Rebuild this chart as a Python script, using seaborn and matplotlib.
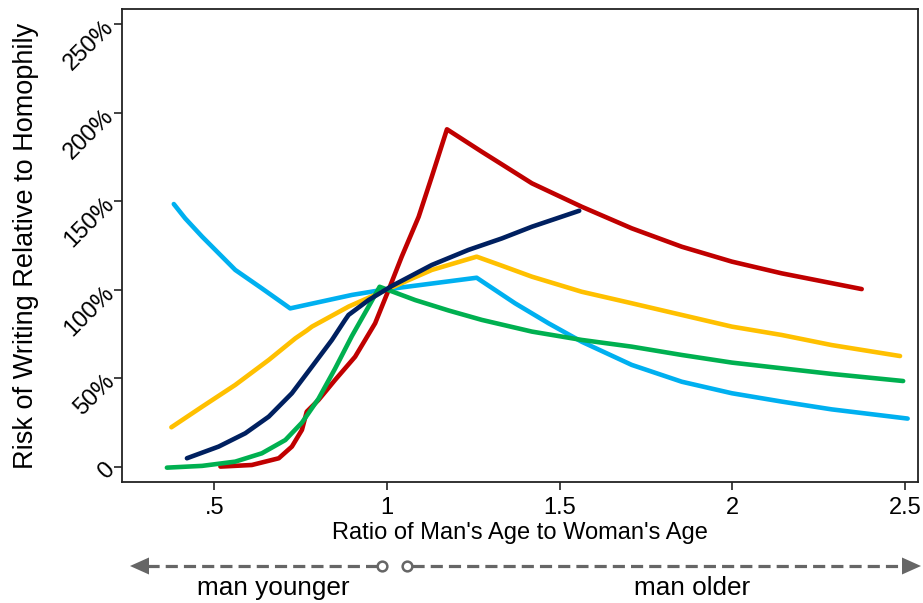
import matplotlib
matplotlib.use("Agg")
import matplotlib.pyplot as plt
from matplotlib.lines import Line2D
from matplotlib.patches import Polygon
import seaborn as sns
import pandas as pd

# ---- data ----
lightblue_x = [0.383, 0.416, 0.465, 0.513, 0.561, 0.638, 0.720, 0.899, 0.986, 1.26, 1.371, 1.468, 1.564, 1.709, 1.854, 1.999, 2.143, 2.288, 2.508]
lightblue_y = [148.4, 140.3, 130.0, 120.6, 111.2, 100.8, 89.5, 97.1, 99.9, 106.8, 92.4, 81.1, 70.7, 57.6, 48.1, 41.6, 36.9, 32.5, 27.3]

yellow_x = [0.376, 0.465, 0.561, 0.658, 0.735, 0.768, 0.783, 0.889, 0.986, 1.13, 1.26, 1.333, 1.42, 1.564, 1.709, 1.854, 1.999, 2.143, 2.288, 2.486]
yellow_y = [22.4, 34.0, 46.3, 60.4, 72.6, 77.0, 79.2, 90.5, 98.9, 111.2, 118.7, 113.6, 107.4, 98.9, 92.4, 85.8, 79.2, 74.5, 68.8, 62.6]

green_x = [0.363, 0.465, 0.561, 0.638, 0.706, 0.754, 0.802, 0.85, 0.899, 0.947, 0.979, 1.082, 1.179, 1.275, 1.42, 1.564, 1.709, 1.854, 1.999, 2.143, 2.288, 2.495]
green_y = [-0.4, 0.6, 3.0, 7.7, 15.2, 25.0, 38.5, 55.5, 74.0, 90.5, 101.7, 94.2, 88.3, 83.0, 76.4, 71.7, 67.9, 63.2, 58.9, 55.7, 52.5, 48.5]

navy_x = [0.421, 0.513, 0.59, 0.658, 0.725, 0.783, 0.841, 0.879, 0.889, 0.947, 1.014, 1.13, 1.236, 1.333, 1.42, 1.557]
navy_y = [4.9, 11.5, 19.0, 28.4, 41.6, 56.6, 71.7, 83.0, 85.8, 94.2, 102.1, 114.0, 122.5, 129.0, 135.6, 144.6]

red_x = [0.518, 0.609, 0.687, 0.725, 0.754, 0.768, 0.802, 0.85, 0.908, 0.966, 1.005, 1.043, 1.092, 1.13, 1.174, 1.275, 1.333, 1.42, 1.564, 1.709, 1.854, 1.999, 2.143, 2.375]
red_y = [0.2, 1.1, 4.9, 11.5, 20.9, 31.2, 37.8, 49.1, 62.2, 81.1, 99.9, 118.7, 141.2, 163.8, 190.6, 177.9, 170.8, 160.1, 146.9, 134.7, 124.3, 115.9, 109.3, 100.4]

series_names = ["lightblue", "yellow", "red", "green", "navy"]
series_colors = ["#00B0F0", "#FFC000", "#C00000", "#00B050", "#002060"]

x_ticks = [0.5, 1.0, 1.5, 2.0, 2.5]
x_tick_labels = [".5", "1", "1.5", "2", "2.5"]
y_ticks = [0, 50, 100, 150, 200, 250]
y_tick_labels = ["0", "50%", "100%", "150%", "200%", "250%"]

series_x = {"lightblue": lightblue_x, "yellow": yellow_x, "red": red_x, "green": green_x, "navy": navy_x}
series_y = {"lightblue": lightblue_y, "yellow": yellow_y, "red": red_y, "green": green_y, "navy": navy_y}
df = pd.concat([pd.DataFrame({"ratio": series_x[n], "risk": series_y[n], "series": n}) for n in series_names],
               ignore_index=True)

sns.set_style("white")
plt.rcParams["font.family"] = ["Liberation Sans", "DejaVu Sans"]
plt.rcParams["text.color"] = "black"
plt.rcParams["axes.labelcolor"] = "black"
plt.rcParams["xtick.color"] = "black"
plt.rcParams["ytick.color"] = "black"

W, H = 923.0, 603.0
fig = plt.figure(figsize=(9.23, 6.03), dpi=100)
ax = fig.add_axes([122 / W, 1 - 482 / H, (918 - 122) / W, (482 - 9) / H])

sns.lineplot(data=df, x="ratio", y="risk", hue="series", hue_order=series_names,
             palette=dict(zip(series_names, series_colors)), linewidth=3.3,
             sort=False, legend=False, ax=ax, solid_capstyle="round", solid_joinstyle="round")

ax.set_xlim(0.233, 2.538)
ax.set_ylim(-8.5, 258.5)
ax.set_xticks(x_ticks)
ax.set_xticklabels(x_tick_labels, fontsize=17)
ax.set_yticks(y_ticks)
ax.set_yticklabels(y_tick_labels, fontsize=17, rotation=45, va="center", ha="right",
                   rotation_mode="anchor")
ax.tick_params(axis="both", direction="out", length=6, width=1.2, color="#222222", left=True, bottom=True)
ax.tick_params(axis="x", pad=5)
ax.tick_params(axis="y", pad=2)
for s in ax.spines.values():
    s.set_color("#222222")
    s.set_linewidth(1.3)

ax.set_xlabel("Ratio of Man's Age to Woman's Age", fontsize=17, va="center")
ax.xaxis.set_label_coords(0.5, (482 - 533) / 473)
ax.set_ylabel("Risk of Writing Relative to Homophily", fontsize=19.5, va="center")
ax.yaxis.set_label_coords((26 - 122) / 796, 0.5)

# ---- direction arrow below the axes ----
gray = "#666666"
ya = 566
def fx(px):
    return px / W
def fy(py):
    return 1 - py / H

fig.add_artist(Line2D([fx(147), fx(377)], [fy(ya), fy(ya)], transform=fig.transFigure, color=gray,
                      lw=2.3, dashes=(3.8, 1.9)))
fig.add_artist(Line2D([fx(412), fx(904)], [fy(ya), fy(ya)], transform=fig.transFigure, color=gray,
                      lw=2.3, dashes=(3.8, 1.9)))
fig.add_artist(Polygon([[fx(130), fy(ya)], [fx(149), fy(ya - 8.5)], [fx(149), fy(ya + 8.5)]],
                       closed=True, transform=fig.transFigure, color=gray, lw=0))
fig.add_artist(Polygon([[fx(921), fy(ya)], [fx(902), fy(ya - 8.5)], [fx(902), fy(ya + 8.5)]],
                       closed=True, transform=fig.transFigure, color=gray, lw=0))
fig.add_artist(Line2D([fx(382), fx(407)], [fy(ya), fy(ya)], transform=fig.transFigure, marker="o",
                      mfc="white", mec=gray, mew=1.8, markersize=7, lw=0))
fig.text(fx(273), fy(588), "man younger", fontsize=18.8, ha="center", va="center")
fig.text(fx(692), fy(588), "man older", fontsize=18.8, ha="center", va="center")

fig.savefig("out.png", dpi=100)
